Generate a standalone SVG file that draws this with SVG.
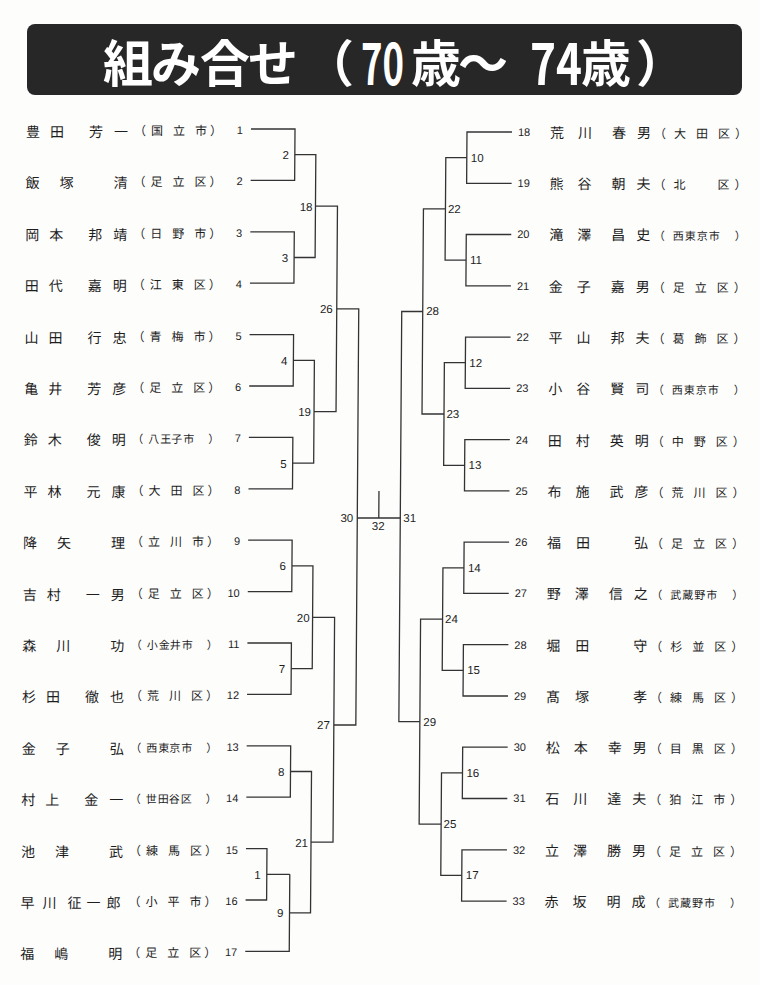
<svg xmlns="http://www.w3.org/2000/svg" width="760" height="985" viewBox="0 0 760 985">
<style>
.nm{font-family:"Noto Sans CJK JP","Noto Sans CJK SC",sans-serif;font-size:14px;fill:#1e1e1e;text-anchor:middle}
.loc{font-family:"Noto Sans CJK JP","Noto Sans CJK SC",sans-serif;font-size:12px;fill:#1e1e1e;text-anchor:middle}
.loc4{font-family:"Noto Sans CJK JP","Noto Sans CJK SC",sans-serif;font-size:11px;fill:#1e1e1e;text-anchor:middle}
.num{font-family:"Liberation Sans",Arial,sans-serif;font-size:11px;fill:#1e1e1e;text-anchor:end}
.numr{font-family:"Liberation Sans",Arial,sans-serif;font-size:11px;fill:#1e1e1e;text-anchor:start}
.ml{font-family:"Liberation Sans",Arial,sans-serif;font-size:11.5px;fill:#1e1e1e;text-anchor:end}
.mr{font-family:"Liberation Sans",Arial,sans-serif;font-size:11.5px;fill:#1e1e1e;text-anchor:start}
.mc{font-family:"Liberation Sans",Arial,sans-serif;font-size:11.5px;fill:#1e1e1e;text-anchor:middle}
.ln{fill:none;stroke:#333;stroke-width:1.3}
.ttl{font-family:"Noto Sans CJK JP","Noto Sans CJK SC",sans-serif;font-weight:700;font-size:50px;fill:#fff}
.dg{font-size:57px}
</style>
<rect width="760" height="985" fill="#fdfdfc"/>
<g id="title">
<rect x="27" y="24" width="715" height="71" rx="8" fill="#272727"/>
<text class="ttl" y="82"><tspan x="103 151 200 248 304">組み合せ（</tspan><tspan class="dg" x="361" y="85" textLength="43" lengthAdjust="spacingAndGlyphs">70</tspan><tspan x="411 458" y="82">歳～</tspan><tspan x="505"> </tspan><tspan class="dg" x="530" y="85" textLength="52" lengthAdjust="spacingAndGlyphs">74</tspan><tspan x="581 636" y="82">歳）</tspan></text>
</g>
<g transform="matrix(1,0,-0.007,1,0.91,0)">
<g id="connectors" class="ln">
<path d="M251 129H295V180.4H251M251 231.8H295V283.2H251M251 334.6H295V386H251M251 437.4H295V488.8H251M251 540.2H295V591.6H251M251 643H295V694.4H251M251 745.8H295V797.2H251M251 848.6H272V900H251M272 874.3H295M251 951.4H295V874.3"/>
<path d="M295 154.7H316V257.5H295M295 360.3H316V463.1H295M295 565.9H316V668.7H295M295 771.5H316V912.9H295M316 206.1H338V411.7H316M316 617.3H338V842.2H316M338 308.9H360V725H338"/>
<path d="M360 518H403M381.5 491V518"/>
<path d="M512 132H467V183.3H512M512 234.5H467V285.8H512M512 337.1H467V388.4H512M512 439.6H467V490.9H512M512 542.2H467V593.4H512M512 644.7H467V696H512M512 747.2H467V798.5H512M512 849.8H467V901.1H512"/>
<path d="M467 157.6H446V260.2H467M467 362.7H446V465.3H467M467 567.8H446V670.4H467M467 772.9H446V875.4H467M446 208.9H424V414H446M446 619.1H424V824.2H446M424 311.5H403V721.6H424"/>
</g>
<g id="match-labels">
<text class="ml" x="289" y="159.2">2</text>
<text class="ml" x="289" y="262">3</text>
<text class="ml" x="289" y="364.8">4</text>
<text class="ml" x="289" y="467.6">5</text>
<text class="ml" x="289" y="570.4">6</text>
<text class="ml" x="289" y="673.2">7</text>
<text class="ml" x="289" y="776">8</text>
<text class="ml" x="266" y="878.8">1</text>
<text class="ml" x="289" y="917.4">9</text>
<text class="ml" x="313" y="210.6">18</text>
<text class="ml" x="313" y="416.2">19</text>
<text class="ml" x="313" y="621.8">20</text>
<text class="ml" x="313" y="846.7">21</text>
<text class="ml" x="334" y="313.4">26</text>
<text class="ml" x="334" y="729.5">27</text>
<text class="ml" x="356" y="522.5">30</text>
<text class="mc" x="381" y="530.5">32</text>
<text class="mr" x="406" y="522.5">31</text>
<text class="mr" x="471" y="161.6">10</text>
<text class="mr" x="471" y="264.2">11</text>
<text class="mr" x="471" y="366.7">12</text>
<text class="mr" x="471" y="469.3">13</text>
<text class="mr" x="471" y="571.8">14</text>
<text class="mr" x="471" y="674.4">15</text>
<text class="mr" x="471" y="776.9">16</text>
<text class="mr" x="471" y="879.4">17</text>
<text class="mr" x="448.5" y="212.9">22</text>
<text class="mr" x="448.5" y="418">23</text>
<text class="mr" x="448.5" y="623.1">24</text>
<text class="mr" x="448.5" y="828.2">25</text>
<text class="mr" x="427.5" y="315.5">28</text>
<text class="mr" x="427.5" y="725.6">29</text>
</g>
<g id="p1"><text class="num" x="243" y="134">1</text><text class="nm" x="33 57 96 121" y="137">豊田芳一</text><text class="loc" x="140 157 179 201 216" y="135">（国立市）</text></g>
<g id="p2"><text class="num" x="243" y="185.4">2</text><text class="nm" x="33 67 121" y="188.4">飯塚清</text><text class="loc" x="140 157 179 201 216" y="186.4">（足立区）</text></g>
<g id="p3"><text class="num" x="243" y="236.8">3</text><text class="nm" x="33 57 96 121" y="239.8">岡本邦靖</text><text class="loc" x="140 157 179 201 216" y="237.8">（日野市）</text></g>
<g id="p4"><text class="num" x="243" y="288.2">4</text><text class="nm" x="33 57 96 121" y="291.2">田代嘉明</text><text class="loc" x="140 157 179 201 216" y="289.2">（江東区）</text></g>
<g id="p5"><text class="num" x="243" y="339.6">5</text><text class="nm" x="33 57 96 121" y="342.6">山田行忠</text><text class="loc" x="140 157 179 201 216" y="340.6">（青梅市）</text></g>
<g id="p6"><text class="num" x="243" y="391">6</text><text class="nm" x="33 57 96 121" y="394">亀井芳彦</text><text class="loc" x="140 157 179 201 216" y="392">（足立区）</text></g>
<g id="p7"><text class="num" x="243" y="442.4">7</text><text class="nm" x="33 57 96 121" y="445.4">鈴木俊明</text><text class="loc4" x="140 156 168 179 191 216" y="443.4">（八王子市）</text></g>
<g id="p8"><text class="num" x="243" y="493.8">8</text><text class="nm" x="33 57 96 121" y="496.8">平林元康</text><text class="loc" x="140 157 179 201 216" y="494.8">（大田区）</text></g>
<g id="p9"><text class="num" x="243" y="545.2">9</text><text class="nm" x="33 67 121" y="548.2">降矢理</text><text class="loc" x="140 157 179 201 216" y="546.2">（立川市）</text></g>
<g id="p10"><text class="num" x="243" y="596.6">10</text><text class="nm" x="33 57 96 121" y="599.6">吉村一男</text><text class="loc" x="140 157 179 201 216" y="597.6">（足立区）</text></g>
<g id="p11"><text class="num" x="243" y="648">11</text><text class="nm" x="33 67 121" y="651">森川功</text><text class="loc4" x="140 156 168 179 191 216" y="649">（小金井市）</text></g>
<g id="p12"><text class="num" x="243" y="699.4">12</text><text class="nm" x="33 57 96 121" y="702.4">杉田徹也</text><text class="loc" x="140 157 179 201 216" y="700.4">（荒川区）</text></g>
<g id="p13"><text class="num" x="243" y="750.8">13</text><text class="nm" x="33 67 121" y="753.8">金子弘</text><text class="loc4" x="140 156 168 179 191 216" y="751.8">（西東京市）</text></g>
<g id="p14"><text class="num" x="243" y="802.2">14</text><text class="nm" x="33 57 96 121" y="805.2">村上金一</text><text class="loc4" x="140 156 168 179 191 216" y="803.2">（世田谷区）</text></g>
<g id="p15"><text class="num" x="243" y="853.6">15</text><text class="nm" x="33 67 121" y="856.6">池津武</text><text class="loc" x="140 157 179 201 216" y="854.6">（練馬区）</text></g>
<g id="p16"><text class="num" x="243" y="905">16</text><text class="nm" x="33 55 80 99 119" y="908">早川征一郎</text><text class="loc" x="140 157 179 201 216" y="906">（小平市）</text></g>
<g id="p17"><text class="num" x="243" y="956.4">17</text><text class="nm" x="33 67 121" y="959.4">福嶋明</text><text class="loc" x="140 157 179 201 216" y="957.4">（足立区）</text></g>
<g id="p18"><text class="numr" x="518" y="136">18</text><text class="nm" x="557 585 619 644" y="138">荒川春男</text><text class="loc" x="660 680 702 724 741" y="138">（大田区）</text></g>
<g id="p19"><text class="numr" x="518" y="187.3">19</text><text class="nm" x="557 585 619 644" y="189.3">熊谷朝夫</text><text class="loc" x="660 680 724 741" y="189.3">（北区）</text></g>
<g id="p20"><text class="numr" x="518" y="238.5">20</text><text class="nm" x="557 585 619 644" y="240.5">滝澤昌史</text><text class="loc4" x="660 679 691 703 715 741" y="240.5">（西東京市）</text></g>
<g id="p21"><text class="numr" x="518" y="289.8">21</text><text class="nm" x="557 585 619 644" y="291.8">金子嘉男</text><text class="loc" x="660 680 702 724 741" y="291.8">（足立区）</text></g>
<g id="p22"><text class="numr" x="518" y="341.1">22</text><text class="nm" x="557 585 619 644" y="343.1">平山邦夫</text><text class="loc" x="660 680 702 724 741" y="343.1">（葛飾区）</text></g>
<g id="p23"><text class="numr" x="518" y="392.4">23</text><text class="nm" x="557 585 619 644" y="394.4">小谷賢司</text><text class="loc4" x="660 679 691 703 715 741" y="394.4">（西東京市）</text></g>
<g id="p24"><text class="numr" x="518" y="443.6">24</text><text class="nm" x="557 585 619 644" y="445.6">田村英明</text><text class="loc" x="660 680 702 724 741" y="445.6">（中野区）</text></g>
<g id="p25"><text class="numr" x="518" y="494.9">25</text><text class="nm" x="557 585 619 644" y="496.9">布施武彦</text><text class="loc" x="660 680 702 724 741" y="496.9">（荒川区）</text></g>
<g id="p26"><text class="numr" x="518" y="546.2">26</text><text class="nm" x="557 586 644" y="548.2">福田弘</text><text class="loc" x="660 680 702 724 741" y="548.2">（足立区）</text></g>
<g id="p27"><text class="numr" x="518" y="597.4">27</text><text class="nm" x="557 585 619 644" y="599.4">野澤信之</text><text class="loc4" x="660 679 691 703 715 741" y="599.4">（武蔵野市）</text></g>
<g id="p28"><text class="numr" x="518" y="648.7">28</text><text class="nm" x="557 586 644" y="650.7">堀田守</text><text class="loc" x="660 680 702 724 741" y="650.7">（杉並区）</text></g>
<g id="p29"><text class="numr" x="518" y="700">29</text><text class="nm" x="557 586 644" y="702">髙塚孝</text><text class="loc" x="660 680 702 724 741" y="702">（練馬区）</text></g>
<g id="p30"><text class="numr" x="518" y="751.2">30</text><text class="nm" x="557 585 619 644" y="753.2">松本幸男</text><text class="loc" x="660 680 702 724 741" y="753.2">（目黒区）</text></g>
<g id="p31"><text class="numr" x="518" y="802.5">31</text><text class="nm" x="557 585 619 644" y="804.5">石川達夫</text><text class="loc" x="660 680 702 724 741" y="804.5">（狛江市）</text></g>
<g id="p32"><text class="numr" x="518" y="853.8">32</text><text class="nm" x="557 585 619 644" y="855.8">立澤勝男</text><text class="loc" x="660 680 702 724 741" y="855.8">（足立区）</text></g>
<g id="p33"><text class="numr" x="518" y="905.1">33</text><text class="nm" x="557 585 619 644" y="907.1">赤坂明成</text><text class="loc4" x="660 679 691 703 715 741" y="907.1">（武蔵野市）</text></g>
</g>
</svg>
